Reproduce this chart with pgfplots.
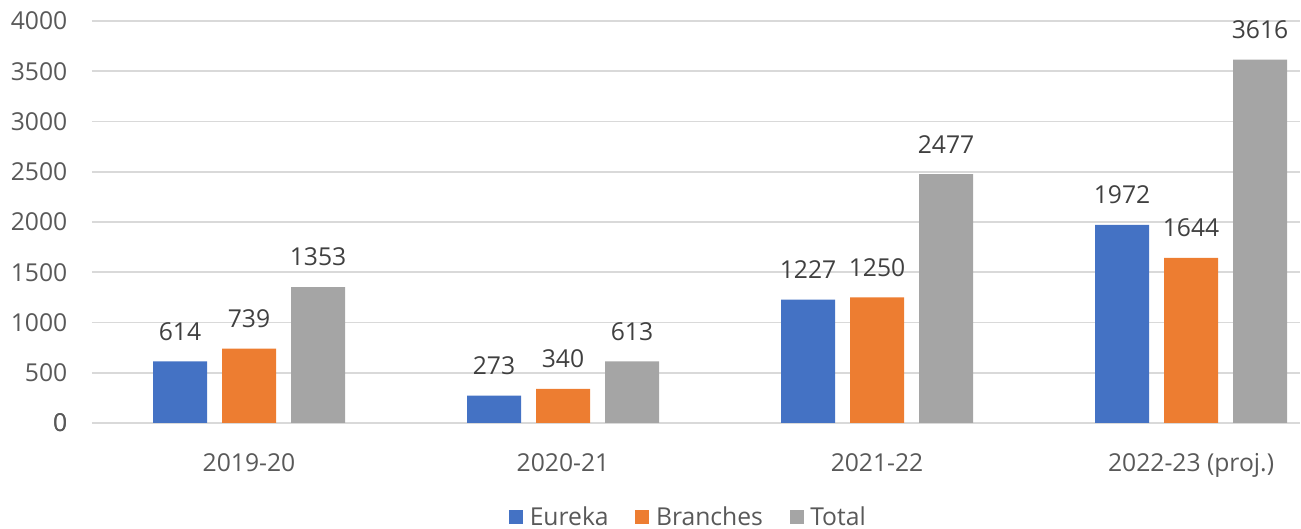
\documentclass[border=0pt]{standalone}
\usepackage{pgfplots}
\pgfplotsset{compat=1.18}
\usepackage{fontspec}
\setmainfont{Open Sans}
\definecolor{cblue}{HTML}{4472C4}
\definecolor{corange}{HTML}{ED7D31}
\definecolor{cgray}{HTML}{A5A5A5}
\definecolor{cgrid}{HTML}{D9D9D9}
\definecolor{ctick}{HTML}{595959}
\definecolor{clabel}{HTML}{404040}
\begin{document}
\begin{tikzpicture}[x=1pt,y=1pt]
\begin{axis}[
  name=ax,
  width=906pt, height=301.5pt, scale only axis,
  ybar, bar width=40.5pt,
  xmin=-0.5, xmax=3.347, ymin=0, ymax=4000,
  xtick={0,1,2,3},
  xticklabels={2019-20,2020-21,2021-22,2022-23 (proj.)},
  ytick={0,500,...,4000},
  ymajorgrids, major grid style={cgrid, line width=1.4pt},
  axis line style={draw=none},
  tick style={draw=none},
  axis x line*=bottom,
  extra y ticks={0}, extra y tick style={grid=major},
  ticklabel style={font=\fontsize{18.5}{22}\selectfont, text=ctick},
  /pgf/number format/assume math mode=true,
  /pgf/number format/1000 sep={},
  yticklabel style={xshift=-15pt},
  xticklabel style={yshift=-15pt},
  nodes near coords,
  every node near coord/.append style={font=\fontsize{18.5}{22}\selectfont, text=clabel, inner sep=0pt, yshift=15.5pt, /pgf/number format/1000 sep={}},
  legend style={at={(0.494,-0.234)}, anchor=center, draw=none, legend columns=-1,
    font=\fontsize{18.5}{22}\selectfont, text=ctick,
    /tikz/every odd column/.append style={column sep=3pt},
    /tikz/every even column/.append style={column sep=18pt}},
  legend image code/.code={\fill[#1] (0pt,-5.25pt) rectangle (10.5pt,5.25pt);},
]
\addplot[fill=cblue, draw=none, bar shift=-51.75pt] coordinates {(0,614) (1,273) (2,1227) (3,1972)};
\addplot[fill=corange, draw=none, bar shift=0pt] coordinates {(0,739) (1,340) (2,1250) (3,1644)};
\addplot[fill=cgray, draw=none, bar shift=51.75pt] coordinates {(0,1353) (1,613) (2,2477) (3,3616)};
\legend{Eureka,Branches,Total}
\end{axis}
\pgfresetboundingbox
\path[use as bounding box] ([xshift=-69pt, yshift=-79.5pt]ax.south west) rectangle ([xshift=0.75pt, yshift=15.75pt]ax.north east);
\end{tikzpicture}
\end{document}
